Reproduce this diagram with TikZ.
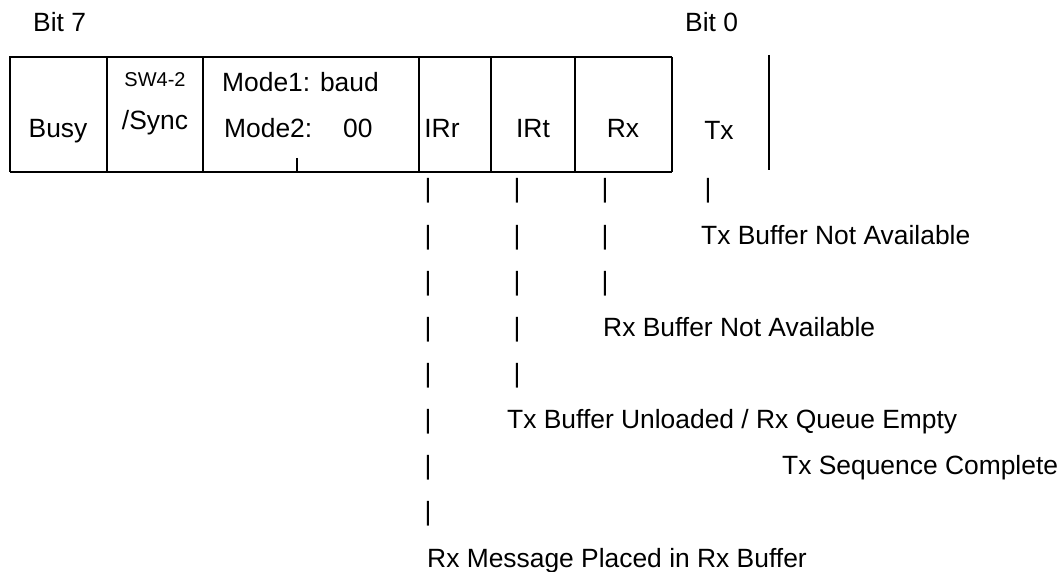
\documentclass[tikz,border=0pt]{standalone}
\usepackage{fontspec}
\setmainfont{Liberation Sans}
\begin{document}
\begin{tikzpicture}[x=1pt,y=-1pt,
  lbl/.style={inner sep=0pt, font=\fontsize{26.4}{31}\selectfont},
  small/.style={inner sep=0pt, font=\fontsize{20}{24}\selectfont},
  bar/.style={lbl, anchor=base},
  note/.style={lbl, anchor=base west},
  frame/.style={line width=2.7pt},
  thin/.style={line width=2pt}]
\useasboundingbox (0,0) rectangle (1061,572);

% register frame
\coordinate (tl) at (10,57);
\coordinate (br) at (672,172);
\draw[frame] (10,172) -- (tl) -- (672,57);
\draw[frame] (tl |- br) -- (br);
\foreach \xx in {10,107,203,419,491,575,672}
  \draw[frame] (\xx,57) -- (\xx,172);
\draw[thin] (769,55) -- (769,170);
\draw[line width=1.6pt] (297,158) -- (297,172);

% bit numbers
\node[note] (b7) at (33,32) {Bit 7};
\node[note] (b0) at (685,32) {Bit 0};

% field names
\node[bar] (busy) at (58,138) {Busy};
\node[small, anchor=base] (sw) at (155,87) {SW4-2};
\node[bar] (sync) at (155,130) {/Sync};
\node[note] (m1) at (222,92) {Mode1: baud};
\node[note] (m2) at (224,138) {Mode2:\hspace{31pt}00};
\node[bar] (irr) at (442,138) {IRr};
\node[bar] (irt) at (533,138) {IRt};
\node[bar] (rx) at (623,138) {Rx};
\node[bar] (tx) at (719,140) {Tx};

% vertical bar columns under IRr, IRt, Rx, Tx
\foreach \r in {0,...,7}
  \node[bar] (p1-\r) at (428,198+46.125*\r) {|};
\foreach \r in {0,...,4}
  \node[bar] (p2-\r) at (517,198+46.125*\r) {|};
\foreach \r in {0,...,2}
  \node[bar] (p3-\r) at (605,198+46.125*\r) {|};
\node[bar] (p4-0) at (708,198) {|};

% bit descriptions
\node[note] (txna) at (701,244.1) {Tx Buffer Not Available};
\node[note] (rxna) at (603,336.4) {Rx Buffer Not Available};
\node[note] (txul) at (507,428.6) {Tx Buffer Unloaded / Rx Queue Empty};
\node[note] (txsc) at (782,474.8) {Tx Sequence Complete};
\node[note] (rxmp) at (427,567) {Rx Message Placed in Rx Buffer};
\end{tikzpicture}
\end{document}
